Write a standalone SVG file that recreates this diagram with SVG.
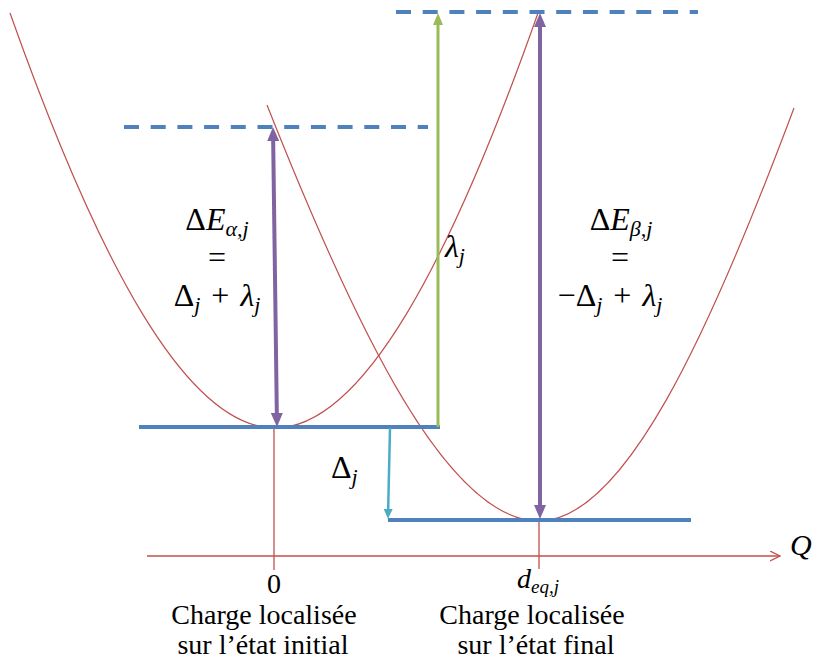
<svg xmlns="http://www.w3.org/2000/svg" width="814" height="659" viewBox="0 0 814 659">
<style>
.curve{fill:none;stroke:#C0504D;stroke-width:1.2}
.axis{fill:none;stroke:#C0504D;stroke-width:1.3}
.level{stroke:#4F81BD;stroke-width:4;fill:none}
.dash{stroke:#4F81BD;stroke-width:4;stroke-dasharray:15 11.7;fill:none}
.purple{stroke:#8064A2;stroke-width:4;fill:none}
.green{stroke:#9BBB59;stroke-width:3;fill:none}
.cyan{stroke:#4BACC6;stroke-width:2.5;fill:none}
text{font-family:"Liberation Serif","Times New Roman",serif;fill:#000;font-size:28px}
.math{font-size:32px}
.m{text-anchor:middle}
.i{font-style:italic}
.sub{font-size:22px}
.sub2{font-size:19px}
.q{font-size:30px}
</style>
<defs>
<marker id="hp" viewBox="0 0 14 12" markerWidth="14" markerHeight="12" refX="6" refY="6" orient="auto-start-reverse" markerUnits="userSpaceOnUse"><path d="M0,0 L14,6 L0,12 z" fill="#8064A2"/></marker>
<marker id="hg" viewBox="0 0 12 10" markerWidth="12" markerHeight="10" refX="5" refY="5" orient="auto" markerUnits="userSpaceOnUse"><path d="M0,0 L12,5 L0,10 z" fill="#9BBB59"/></marker>
<marker id="hc" viewBox="0 0 10 9" markerWidth="10" markerHeight="9" refX="4" refY="4.5" orient="auto" markerUnits="userSpaceOnUse"><path d="M0,0 L10,4.5 L0,9 z" fill="#4BACC6"/></marker>
<marker id="ha" viewBox="0 0 11 11" markerWidth="11" markerHeight="11" refX="10" refY="5.5" orient="auto" markerUnits="userSpaceOnUse"><path d="M0,0.5 L10,5.5 L0,10.5" fill="none" stroke="#C0504D" stroke-width="1.3"/></marker>
</defs>

<g id="axes">
<line class="axis" x1="147" y1="556" x2="780" y2="556" marker-end="url(#ha)"/>
<line class="axis" x1="274" y1="428" x2="274" y2="570"/>
<line class="axis" x1="539" y1="521" x2="539" y2="569"/>
</g>

<g id="curve-initial">
<path class="curve" d="M10,13 C98.3,262 186.7,428 275,428 C362.7,428 450.3,262 538,13"/>
</g>
<g id="curve-final">
<path class="curve" d="M267,105 C357.7,334 448.3,521 539,521 C624,521 709,335 794,108"/>
</g>

<g id="levels">
<line class="level" x1="139" y1="427" x2="440" y2="427"/>
<line class="level" x1="388" y1="520" x2="691" y2="520"/>
<line class="dash" x1="124" y1="127" x2="428" y2="127"/>
<line class="dash" x1="396" y1="12" x2="698" y2="12"/>
</g>

<g id="connectors">
<line class="purple" x1="273.1" y1="135" x2="276.9" y2="419" marker-start="url(#hp)" marker-end="url(#hp)"/>
<line class="purple" x1="540" y1="21" x2="540" y2="511" marker-start="url(#hp)" marker-end="url(#hp)"/>
<line class="green" x1="438" y1="427" x2="438" y2="20" marker-end="url(#hg)"/>
<line class="cyan" x1="390" y1="428" x2="388.1" y2="513" marker-end="url(#hc)"/>
</g>

<g id="label-alpha">
<text class="math m" x="217" y="230">Δ<tspan class="i">E</tspan><tspan class="sub i" dy="6">α,j</tspan></text>
<text class="math m" x="217" y="268">=</text>
<text class="math m" x="217" y="306">Δ<tspan class="sub i" dy="6">j</tspan><tspan dy="-6" dx="3"> + </tspan><tspan class="i" dx="3">λ</tspan><tspan class="sub i" dy="6">j</tspan></text>
</g>
<g id="label-beta">
<text class="math m" x="621" y="230">Δ<tspan class="i">E</tspan><tspan class="sub i" dy="6">β,j</tspan></text>
<text class="math m" x="620" y="268">=</text>
<text class="math m" x="610" y="306">−Δ<tspan class="sub i" dy="6">j</tspan><tspan dy="-6" dx="3"> + </tspan><tspan class="i" dx="3">λ</tspan><tspan class="sub i" dy="6">j</tspan></text>
</g>
<g id="label-lambda">
<text class="math" x="445" y="257"><tspan class="i">λ</tspan><tspan class="sub i" dy="6">j</tspan></text>
</g>
<g id="label-delta">
<text class="math" x="331" y="478">Δ<tspan class="sub i" dy="6">j</tspan></text>
</g>
<g id="label-Q">
<text class="q i" x="790" y="555">Q</text>
</g>
<g id="label-initial">
<text class="m" x="274" y="593">0</text>
<text class="m" x="264" y="624">Charge localisée</text>
<text class="m" x="263" y="654">sur l’état initial</text>
</g>
<g id="label-final">
<text class="m" x="538" y="588"><tspan class="i">d</tspan><tspan class="sub2 i" dy="5">eq,j</tspan></text>
<text class="m" x="532" y="624">Charge localisée</text>
<text class="m" x="536" y="654">sur l’état final</text>
</g>
</svg>
